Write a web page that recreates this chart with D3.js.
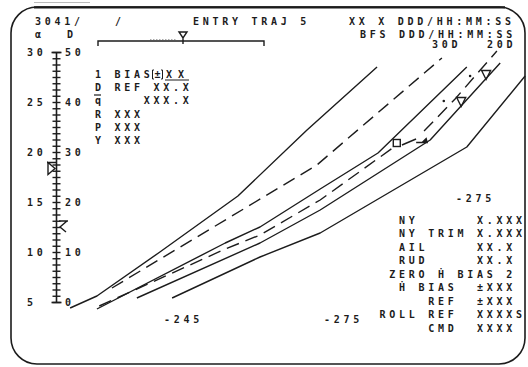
<!DOCTYPE html>
<html><head><meta charset="utf-8">
<script src="https://cdn.jsdelivr.net/npm/d3@7"></script>
<style>
html,body{margin:0;padding:0;background:#fff;}
svg text{font-family:"DejaVu Sans Mono",monospace;font-weight:bold;font-size:10px;letter-spacing:3.73px;white-space:pre;fill:#1c1c1c;}
</style></head><body>
<svg id="c" width="528" height="367"></svg>
<script>
// ---------- data ----------
const alphaTicks = [5, 10, 15, 20, 25, 30];
const dragTicks = [0, 10, 20, 30, 40, 50];
const dragMinorStep = 1.25;

// trajectory lines: velocity (arbitrary units 0-100) vs drag D
const topSolidV = [2.9, 8.6, 22.0, 38.6, 53.3, 68.2];
const topSolidD = [-1.1, 1.3, 10.1, 21.3, 34.5, 47.1];
const upperDashV = [11.8, 55.4, 82.0];
const upperDashD = [2.9, 27.5, 48.9];
const solidAV = [8.6, 35.9, 43.3, 56.1, 68.4, 87.3];
const solidAD = [-1.3, 11.9, 15.1, 22.7, 29.9, 47.1];
const dashBV = [9.1, 35.9, 43.3, 56.1, 72.4];
const dashBD = [-0.7, 10.7, 13.5, 20.5, 31.5];
const bridgeV = [73.5, 76.5];
const bridgeD = [31.5, 32.7];
const dashEV = [78.2, 84.8, 93.7];
const dashED = [34.3, 40.7, 50.3];
const solidCV = [17.1, 43.3, 56.1, 79.5, 94.4];
const solidCD = [0.9, 11.9, 18.5, 32.5, 47.9];
const solidDV = [24.6, 43.3, 56.1, 87.3, 99.7];
const solidDD = [0.9, 9.1, 13.9, 31.1, 45.3];

// markers
const squareMark = [72.4, 31.9];
const flagMark = [77.8, 32.3];
const dotsV = [82.4, 88.0];
const dotsD = [40.3, 45.3];
const triV = [86.1, 91.4];
const triD = [40.1, 45.5];
const alphaIndicator = 18.4;
const dragIndicator = 15.3;
const gaugeValue = 51.2;

// texts
const header1 = ["3041/", "/", "ENTRY TRAJ 5", "XX X DDD/HH:MM:SS"];
const header2 = ["α", "D", "BFS DDD/HH:MM:SS"];
const header3 = ["30D", "20D"];
const leftRows = ["1 BIAS", "D REF XX.X", "q    XXX.X", "R XXX", "P XXX", "Y XXX"];
const rightRows = ["NY      X.XXX", "NY TRIM X.XXX", "AIL     XX.X", "RUD     XX.X",
  "ZERO Ḣ BIAS 2", "Ḣ BIAS  ±XXX", "   REF  ±XXX", "ROLL REF  XXXXS", "   CMD  XXXX"];
const rightShift = [0, 0, 0, 0, -1, 0, 0, -2, 0];
const velLabels = ["-245", "-275", "-275"];

// ---------- drawing ----------
const svg = d3.select("#c");
const ink = "#1c1c1c";
const pitch = 9.75;

// frame
svg.append("rect").attr("x", 11).attr("y", 7).attr("width", 514).attr("height", 357)
  .attr("rx", 26).attr("ry", 26).attr("fill", "none").attr("stroke", ink).attr("stroke-width", 1.6);
svg.append("line").attr("x1", 34).attr("x2", 505).attr("y1", 7.3).attr("y2", 7.3)
  .attr("stroke", ink).attr("stroke-width", 2.2);
svg.append("line").attr("x1", 34).attr("x2", 90).attr("y1", 2.5).attr("y2", 2.5)
  .attr("stroke", "#bbb").attr("stroke-width", 1.2);

const x = d3.scaleLinear().domain([0, 100]).range([56.5, 526.5]);
const yD = d3.scaleLinear().domain([0, 50]).range([302.5, 52.5]);
const yA = d3.scaleLinear().domain([5, 30]).range([302.5, 52.5]);

// left vertical axis
const axisX = 56.5;
svg.append("line").attr("x1", axisX).attr("x2", axisX).attr("y1", yD(50)).attr("y2", yD(0))
  .attr("stroke", ink).attr("stroke-width", 1.6);
const minor = d3.range(0, 50.001, dragMinorStep);
svg.selectAll(".mt").data(minor).join("line")
  .attr("x1", axisX - 4).attr("x2", axisX + 4)
  .attr("y1", d => yD(d)).attr("y2", d => yD(d))
  .attr("stroke", ink).attr("stroke-width", 1.4);
svg.selectAll(".cap").data([0, 50]).join("line")
  .attr("x1", axisX - 5).attr("x2", axisX + 5)
  .attr("y1", d => yD(d)).attr("y2", d => yD(d))
  .attr("stroke", ink).attr("stroke-width", 1.6);
svg.selectAll(".al").data(alphaTicks).join("text")
  .attr("x", 27).attr("y", d => yA(d) + 3.6).text(d => d);
svg.selectAll(".dl").data(dragTicks).join("text")
  .attr("x", 65).attr("y", d => yD(d) + 3.6).text(d => d);

// indicators on axis
const ya = yA(alphaIndicator);
svg.append("path").attr("d", `M47,${ya-6} L56,${ya-6} M48,${ya-6} L48,${ya+6} L55,${ya} Z`)
  .attr("fill", "none").attr("stroke", ink).attr("stroke-width", 1.4);
const yd = yD(dragIndicator);
svg.append("path").attr("d", `M59,${yd-5} L68,${yd-5} M67,${yd-5} L60,${yd+1} L66,${yd+6}`)
  .attr("fill", "none").attr("stroke", ink).attr("stroke-width", 1.4);

// header texts
const h1x = [35, 115, 193, 349];
svg.selectAll(".h1").data(header1).join("text").attr("x", (d, i) => h1x[i]).attr("y", 25).text(d => d);
const h2x = [35, 67, 360];
svg.selectAll(".h2").data(header2).join("text").attr("x", (d, i) => h2x[i]).attr("y", 37.5).text(d => d);
const h3x = [432, 487];
svg.selectAll(".h3").data(header3).join("text").attr("x", (d, i) => h3x[i]).attr("y", 47.5).text(d => d);

// gauge
const g = d3.scaleLinear().domain([0, 100]).range([98, 264]);
svg.append("path").attr("d", `M${g(0)},46 L${g(0)},41 L${g(100)},41 L${g(100)},46`)
  .attr("fill", "none").attr("stroke", ink).attr("stroke-width", 1.4);
const gx = g(gaugeValue);
svg.append("path").attr("d", `M${gx-4},32 L${gx+4},32 L${gx},38 Z M${gx},38 L${gx},44`)
  .attr("fill", "none").attr("stroke", ink).attr("stroke-width", 1.4);
svg.append("line").attr("x1", 150).attr("x2", 176).attr("y1", 39.5).attr("y2", 39.5)
  .attr("stroke", "#aaa").attr("stroke-width", 1).attr("stroke-dasharray", "1.5,1.5");

// left block
svg.selectAll(".lr").data(leftRows).join("text")
  .attr("x", 95).attr("y", (d, i) => 77.8 + i * 13.3).text(d => d);
svg.append("line").attr("x1", 94).attr("x2", 101).attr("y1", 95).attr("y2", 95)
  .attr("stroke", ink).attr("stroke-width", 1.2);
svg.append("text").attr("x", 154.5).attr("y", 77.8).style("letter-spacing", "0px").text("±");
svg.append("path").attr("d", "M154,70 L152.5,70 L152.5,79 L154,79 M161,70 L162.5,70 L162.5,79 L161,79")
  .attr("fill", "none").attr("stroke", ink).attr("stroke-width", 1);
svg.append("text").attr("x", 166).attr("y", 77.8).style("letter-spacing", "6px").text("XX");
svg.append("line").attr("x1", 165).attr("x2", 189).attr("y1", 80).attr("y2", 80)
  .attr("stroke", ink).attr("stroke-width", 1);

// right block
svg.selectAll(".rr").data(rightRows).join("text")
  .attr("x", (d, i) => 399 + rightShift[i] * pitch)
  .attr("y", (d, i) => 223.5 + i * 13.5).text(d => d);

// velocity labels
const vlx = [164, 324, 456], vly = [323, 323, 202];
svg.selectAll(".vl").data(velLabels).join("text")
  .attr("x", (d, i) => vlx[i]).attr("y", (d, i) => vly[i]).text(d => d);

// curves
const line = d3.line().x(d => x(d[0])).y(d => yD(d[1]));
function curve(V, D, dash) {
  svg.append("path").datum(V.map((v, i) => [v, D[i]])).attr("d", line)
    .attr("fill", "none").attr("stroke", ink).attr("stroke-width", 1.4)
    .attr("stroke-linejoin", "round")
    .attr("stroke-dasharray", dash ? "13,7" : null);
}
curve(topSolidV, topSolidD, false);
curve(upperDashV, upperDashD, true);
curve(solidAV, solidAD, false);
curve(dashBV, dashBD, true);
curve(bridgeV, bridgeD, false);
curve(dashEV, dashED, true);
curve(solidCV, solidCD, false);
curve(solidDV, solidDD, false);

// markers
svg.append("rect").attr("x", x(squareMark[0]) - 3.5).attr("y", yD(squareMark[1]) - 3.5)
  .attr("width", 7).attr("height", 7).attr("fill", "none").attr("stroke", ink).attr("stroke-width", 1.4);
const fx = x(flagMark[0]), fy = yD(flagMark[1]);
svg.append("path").attr("d", `M${fx-6},${fy+1.5} L${fx+5},${fy+1.5} L${fx+4},${fy-2.5} L${fx},${fy+1.5}`)
  .attr("fill", ink).attr("stroke", ink).attr("stroke-width", 1.4);
svg.selectAll(".dot").data(dotsV).join("circle")
  .attr("cx", d => x(d)).attr("cy", (d, i) => yD(dotsD[i])).attr("r", 1.3).attr("fill", ink);
svg.selectAll(".tri").data(triV).join("path")
  .attr("d", (d, i) => { const cx = x(d), cy = yD(triD[i]);
    return `M${cx-4.5},${cy-4.5} L${cx+4.5},${cy-4.5} L${cx},${cy+4.5} Z`; })
  .attr("fill", "none").attr("stroke", ink).attr("stroke-width", 1.4);
</script>
</body></html>
